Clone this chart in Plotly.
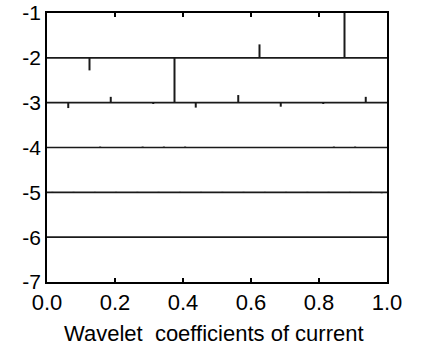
import plotly.graph_objects as go

# Wavelet detail coefficients per level (baseline = level value)
levels = [-2, -3, -4, -5, -6]
coef_l2 = [-0.28, -1.0, 0.30, 1.0]
coef_l3 = [-0.12, 0.13, -0.03, -0.11, 0.17, -0.09, -0.03, 0.13]
coef_l4 = [0.01, 0.01, 0.02, 0.01, 0.02, 0.02, 0.02, 0.01,
           0.01, 0.01, 0.01, 0.01, 0.01, 0.02, 0.02, 0.01]
coef_l5 = [0.01, 0.0, 0.01, 0.0, 0.01, 0.0, 0.01, 0.0,
           0.01, 0.0, 0.01, 0.0, 0.01, 0.0, 0.01, 0.0,
           0.01, 0.0, 0.01, 0.0, 0.01, 0.0, 0.01, 0.0,
           0.01, 0.0, 0.01, 0.0, 0.01, 0.0, 0.01, -0.02]
coef_l6 = [0.0, 0.0, 0.0, 0.0, 0.0, 0.0, 0.0, 0.0,
           0.0, 0.0, 0.0, 0.0, 0.0, 0.0, 0.0, 0.0,
           0.0, 0.0, 0.0, 0.0, 0.0, 0.0, 0.0, 0.0,
           0.0, 0.0, 0.0, 0.0, 0.0, 0.0, 0.0, 0.0,
           0.0, 0.0, 0.0, 0.0, 0.0, 0.0, 0.0, 0.0,
           0.0, 0.0, 0.0, 0.0, 0.0, 0.0, 0.0, 0.0,
           0.0, 0.0, 0.0, 0.0, 0.0, 0.0, 0.0, 0.0,
           0.0, 0.0, 0.0, 0.0, 0.0, 0.0, 0.0, -0.02]
coefs = [coef_l2, coef_l3, coef_l4, coef_l5, coef_l6]

x_ticks = [0.0, 0.2, 0.4, 0.6, 0.8, 1.0]
x_ticklabels = ["0.0", "0.2", "0.4", "0.6", "0.8", "1.0"]
y_ticks = [-1, -2, -3, -4, -5, -6, -7]
y_ticklabels = ["-1", "-2", "-3", "-4", "-5", "-6", "-7"]
x_title = "Wavelet  coefficients of current"

fig = go.Figure()
for base, c in zip(levels, coefs):
    n = len(c)
    pos = [(k + 0.5) / n for k in range(n)]
    # baseline
    fig.add_trace(go.Scatter(x=[0, 1], y=[base, base], mode="lines",
                             line=dict(color="#1a1a1a", width=1.7),
                             showlegend=False, hoverinfo="skip"))
    xs, ys = [], []
    for p, v in zip(pos, c):
        xs += [p, p, None]
        ys += [base, base + v, None]
    fig.add_trace(go.Scatter(x=xs, y=ys, mode="lines",
                             line=dict(color="#1a1a1a", width=2),
                             showlegend=False, hoverinfo="skip"))

fig.update_layout(
    width=421, height=348,
    margin=dict(l=47, r=34, t=13, b=66, autoexpand=False),
    paper_bgcolor="white", plot_bgcolor="white",
    font=dict(family="Liberation Sans, Arial, sans-serif", color="black"),
    xaxis=dict(range=[0, 1], tickvals=x_ticks, ticktext=x_ticklabels,
               ticks="inside", ticklen=4, tickwidth=1.5, tickcolor="black",
               showline=True, linecolor="black", linewidth=1.6, mirror="ticks",
               showgrid=False, zeroline=False, tickfont=dict(size=22),
               automargin=False),
    yaxis=dict(range=[-7, -1], tickvals=y_ticks, ticktext=y_ticklabels,
               ticks="", showline=True, linecolor="black", linewidth=1.6,
               mirror=True, showgrid=False, zeroline=False,
               tickfont=dict(size=21), automargin=False),
    annotations=[dict(text=x_title, xref="paper", yref="paper",
                      x=0.49, y=-0.137, xanchor="center", yanchor="top",
                      showarrow=False, font=dict(size=22))],
)

fig.write_html("out.html")
